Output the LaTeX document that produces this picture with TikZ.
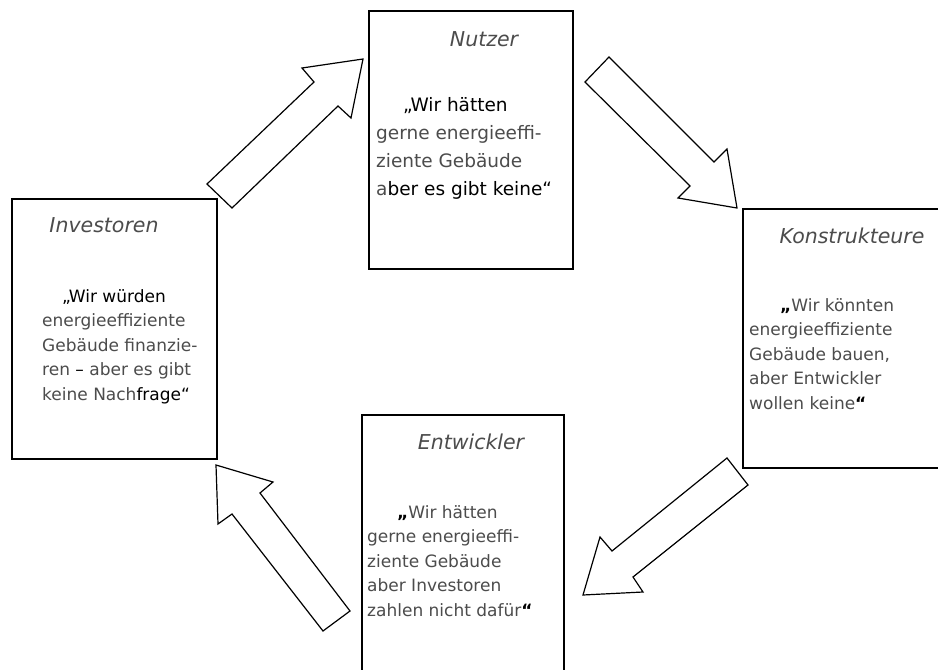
\documentclass[tikz,border=0pt]{standalone}
\usepackage{fontspec}
\setmainfont{DejaVu Sans}
\definecolor{lighttext}{gray}{0.3}
\begin{document}
\begin{tikzpicture}[x=1pt,y=-1pt,
  box/.style={draw=black,line width=1.4pt,inner sep=0pt,outer sep=0pt,anchor=north west},
  blockarrow/.style={draw=black,line width=1.2pt,fill=white,line join=miter},
  title/.style={font=\fontsize{20.5}{24}\selectfont\itshape,text=lighttext,inner sep=0pt},
  body/.style={font=\fontsize{17}{24.5}\selectfont,text=lighttext,align=left,inner sep=0pt,anchor=north west},
  bigbody/.style={body,font=\fontsize{18.5}{28}\selectfont}]
\useasboundingbox (0,0) rectangle (938,670);
\fill[white] (0,0) rectangle (938,670);

% boxes
\node[box,minimum width=204pt,minimum height=258pt] (nutzer) at (369,11) {};
\node[box,minimum width=205pt,minimum height=260pt] (investoren) at (12,199) {};
\node[box,minimum width=212pt,minimum height=259pt] (konstrukteure) at (743,209) {};
\node[box,minimum width=202pt,minimum height=270pt] (entwickler) at (362,415) {};

% block arrows
\draw[blockarrow] (207,184) -- (314,82) -- (302,68) -- (363,59) -- (351,118) -- (338,106) -- (232,208) -- cycle;
\draw[blockarrow] (609,57) -- (714,162) -- (727,149) -- (737,208) -- (678,198) -- (690,186) -- (585,82) -- cycle;
\draw[blockarrow] (727,458) -- (612,551) -- (600,537) -- (583,595) -- (643,592) -- (633,577) -- (748,485) -- cycle;
\draw[blockarrow] (216,465) -- (273,482) -- (260,493) -- (350,611) -- (323,631) -- (232,514) -- (218,524) -- cycle;

% titles
\node[title] (nutzerT) at (484,39) {Nutzer};
\node[title] (investorenT) at (104,225) {Investoren};
\node[title] (konstrukteureT) at (852,236) {Konstrukteure};
\node[title] (entwicklerT) at (471,442) {Entwickler};

% texts
\node[bigbody] (nutzerB) at (376,97) {\hspace*{27pt}\textcolor{black}{„Wir hätten}\\gerne energieeffi-\\ziente Gebäude\\a\textcolor{black}{ber es gibt keine“}};
\node[body] (investorenB) at (42,289) {\hspace*{20pt}\textcolor{black}{„Wir würden}\\energieeffiziente\\Gebäude finanzie-\\ren \textcolor{black}{–} aber es gibt\\keine Nach\textcolor{black}{frage“}};
\node[body] (konstrukteureB) at (749,298) {\hspace*{31pt}\textcolor{black}{\bfseries „}Wir könnten\\energieeffiziente\\Gebäude bauen,\\aber Entwickler\\wollen keine\textcolor{black}{\bfseries “}};
\node[body] (entwicklerB) at (367,505) {\hspace*{30pt}\textcolor{black}{\bfseries „}Wir hätten\\gerne energieeffi-\\ziente Gebäude\\aber Investoren\\zahlen nicht dafür\textcolor{black}{\bfseries “}};
\end{tikzpicture}
\end{document}
